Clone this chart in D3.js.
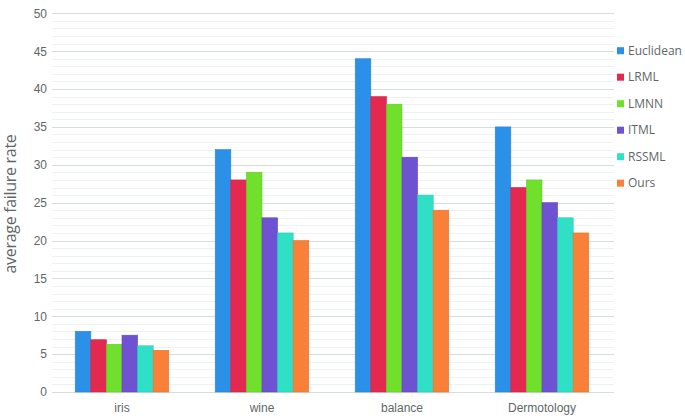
<!DOCTYPE html>
<html>
<head>
<meta charset="utf-8">
<script src="https://cdn.jsdelivr.net/npm/d3@7"></script>
<style>
  body { margin: 0; background: #fff; }
  svg { font-family: "Open Sans", "Noto Sans", sans-serif; }
</style>
</head>
<body>
<svg id="chart"></svg>
<script>
const datasets = ["iris", "wine", "balance", "Dermotology"];
const methods = ["Euclidean", "LRML", "LMNN", "ITML", "RSSML", "Ours"];

const euclidean = [8, 32, 44, 35];
const lrml = [6.9, 28, 39, 27];
const lmnn = [6.3, 29, 38, 28];
const itml = [7.5, 23, 31, 25];
const rssml = [6.1, 21, 26, 23];
const ours = [5.5, 20, 24, 21];

const yTicks = [0, 5, 10, 15, 20, 25, 30, 35, 40, 45, 50];

const colors = {Euclidean: "#2a90e8", LRML: "#e3294f", LMNN: "#70e02c",
                ITML: "#6e52d2", RSSML: "#30e0c6", Ours: "#f98038"};

const series = {Euclidean: euclidean, LRML: lrml, LMNN: lmnn,
                ITML: itml, RSSML: rssml, Ours: ours};

const width = 685;
const height = 418;
const svg = d3.select("#chart")
              .attr("width", width)
              .attr("height", height);

const x0 = d3.scaleBand().domain(datasets).range([52, 612]).paddingInner(0.332).paddingOuter(0.166);
const x1 = d3.scaleBand().domain(methods).range([0, x0.bandwidth()]);
const y = d3.scaleLinear().domain([0, 50]).range([392, 13.3]);

// minor grid
svg.append("g")
   .selectAll("line")
   .data(d3.range(0, 51).filter(v => v % 5 !== 0))
   .enter()
   .append("line")
   .attr("x1", 52).attr("x2", 614)
   .attr("y1", d => Math.round(y(d)) + 0.5)
   .attr("y2", d => Math.round(y(d)) + 0.5)
   .attr("stroke", "#eef1f1")
   .attr("stroke-width", 1);

// major grid
svg.append("g")
   .selectAll("line")
   .data(yTicks)
   .enter()
   .append("line")
   .attr("x1", 52).attr("x2", 614)
   .attr("y1", d => Math.round(y(d)) + 0.5)
   .attr("y2", d => Math.round(y(d)) + 0.5)
   .attr("stroke", "#d6dedd")
   .attr("stroke-width", 1.2);

// y axis labels
const yAxis = svg.append("g")
   .attr("transform", "translate(52,0)")
   .call(d3.axisLeft(y).tickValues(yTicks).tickSize(0).tickPadding(5));
yAxis.select(".domain").remove();
yAxis.selectAll("text")
     .style("font-size", "12px")
     .attr("fill", "#5f6768");

// bars
const group = svg.selectAll("g.grp")
   .data(datasets)
   .enter()
   .append("g")
   .attr("class", "grp")
   .attr("transform", d => `translate(${x0(d)},0)`);

group.selectAll("rect")
   .data((d, i) => methods.map(m => ({method: m, value: series[m][i]})))
   .enter()
   .append("rect")
   .attr("x", d => x1(d.method))
   .attr("y", d => y(d.value))
   .attr("width", x1.bandwidth())
   .attr("height", d => y(0) - y(d.value))
   .attr("fill", d => colors[d.method])
   .attr("stroke", d => d3.color(colors[d.method]).darker(0.3))
   .attr("stroke-width", 0.6);

// x labels
const xAxis = svg.append("g")
   .attr("transform", "translate(0,392)")
   .call(d3.axisBottom(x0).tickSize(0).tickPadding(11));
xAxis.select(".domain").remove();
xAxis.selectAll("text")
     .style("font-size", "12px")
     .attr("fill", "#5f6768");

// y title
svg.append("text")
   .attr("transform", "translate(16,204) rotate(-90)")
   .attr("text-anchor", "middle")
   .style("font-size", "16px")
   .style("letter-spacing", "-0.3px")
   .attr("fill", "#5f6768")
   .text("average failure rate");

// legend
const legend = svg.append("g")
   .selectAll("g")
   .data(methods)
   .enter()
   .append("g")
   .attr("transform", (m, i) => `translate(617,${50.7 + i * 26.5})`);

legend.append("rect")
   .attr("x", 0).attr("y", -3.5)
   .attr("width", 7).attr("height", 7)
   .attr("fill", m => colors[m]);

legend.append("text")
   .attr("x", 11)
   .attr("y", 0)
   .attr("dy", "0.35em")
   .style("font-size", "12px")
   .attr("fill", "#5f6768")
   .text(m => m);
</script>
</body>
</html>
